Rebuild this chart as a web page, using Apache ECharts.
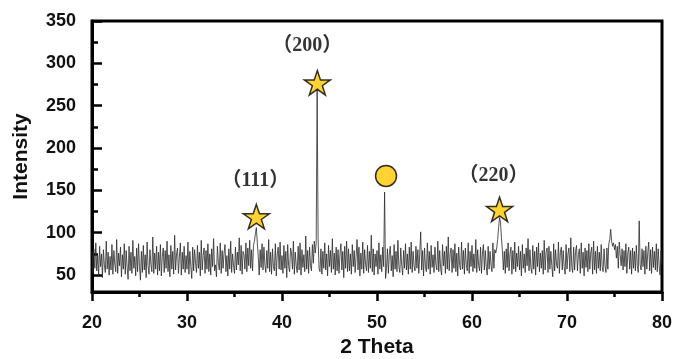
<!DOCTYPE html>
<html>
<head>
<meta charset="utf-8">
<script src="https://cdn.jsdelivr.net/npm/echarts@6/dist/echarts.min.js"></script>
<style>
  html, body { margin: 0; padding: 0; background: #fff; }
  #chart { width: 674px; height: 359px; }
</style>
</head>
<body>
<div id="chart"></div>
<script>
// scan: 20..80 deg, 0.1 deg step
const thetaStart = 20;
const thetaStep = 0.1;
const intensity = [
  78, 52, 81, 58, 88, 55, 73, 49, 84, 60,
  75, 47, 80, 62, 53, 90, 57, 77, 50, 72,
  56, 86, 51, 79, 63, 54, 92, 52, 76, 61,
  83, 48, 74, 57, 87, 51, 79, 59, 45, 84,
  55, 77, 52, 91, 58, 72, 49, 82, 54, 87,
  60, 44, 78, 53, 85, 56, 74, 47, 89, 61,
  51, 80, 63, 54, 95, 52, 76, 57, 84, 50,
  77, 55, 86, 49, 72, 82, 53, 79, 58, 90,
  54, 74, 48, 85, 57, 78, 51, 97, 56, 75,
  82, 52, 71, 88, 50, 77, 57, 84, 53, 73,
  57, 89, 51, 78, 60, 46, 83, 55, 80, 64,
  53, 85, 58, 77, 49, 91, 56, 73, 82, 52,
  79, 57, 87, 54, 75, 50, 81, 60, 93, 55,
  62, 48, 84, 65, 56, 88, 52, 79, 58, 76,
  86, 54, 73, 49, 81, 57, 90, 53, 75, 61,
  52, 83, 56, 77, 62, 94, 55, 85, 51, 78,
  74, 57, 88, 54, 82, 61, 91, 58, 80, 55,
  85, 90, 99, 106, 88, 72, 50, 80, 59, 87,
  56, 83, 62, 53, 79, 58, 92, 54, 77, 51,
  81, 60, 55, 87, 49, 75, 83, 57, 89, 56,
  73, 52, 85, 58, 78, 47, 86, 60, 54, 82,
  76, 57, 90, 51, 77, 61, 53, 84, 56, 88,
  50, 80, 59, 74, 54, 96, 57, 79, 52, 83,
  61, 55, 86, 64, 90, 76, 88, 270, 94, 58,
  54, 81, 51, 78, 58, 88, 56, 75, 49, 85,
  60, 79, 53, 93, 57, 76, 50, 83, 55, 80,
  52, 74, 87, 56, 78, 47, 84, 58, 90, 54,
  81, 55, 75, 51, 86, 60, 79, 53, 72, 92,
  56, 83, 49, 76, 57, 89, 52, 80, 62, 55,
  85, 53, 78, 58, 97, 54, 81, 50, 75, 60,
  79, 51, 88, 57, 74, 54, 83, 60, 148, 46,
  58, 81, 52, 76, 84, 55, 73, 48, 86, 57,
  78, 54, 91, 60, 53, 82, 62, 50, 79, 58,
  87, 56, 75, 51, 83, 57, 89, 53, 78, 61,
  55, 84, 58, 80, 52, 76, 101, 56, 79, 49,
  82, 60, 54, 88, 57, 78, 51, 85, 59, 74,
  53, 83, 62, 56, 90, 54, 79, 58, 50, 86,
  61, 78, 52, 84, 57, 95, 55, 75, 82, 53,
  80, 58, 87, 54, 76, 49, 83, 61, 56, 89,
  57, 79, 51, 82, 62, 55, 88, 52, 78, 60,
  85, 54, 75, 58, 92, 53, 80, 61, 55, 83,
  52, 76, 86, 56, 79, 60, 50, 84, 57, 78,
  62, 54, 88, 58, 80, 76, 82, 92, 106, 118,
  112, 94, 79, 56, 78, 52, 81, 59, 88, 55,
  75, 83, 51, 79, 57, 89, 54, 76, 60, 84,
  56, 78, 49, 86, 58, 75, 53, 82, 61, 93,
  55, 80, 59, 52, 85, 57, 78, 50, 83, 60,
  88, 54, 76, 58, 79, 51, 91, 56, 77, 82,
  53, 84, 57, 78, 61, 48, 87, 55, 80, 62,
  58, 89, 52, 77, 83, 56, 79, 60, 51, 86,
  57, 75, 82, 54, 94, 60, 53, 83, 56, 78,
  85, 55, 74, 81, 52, 88, 58, 77, 49, 82,
  59, 79, 54, 87, 57, 76, 83, 51, 90, 56,
  78, 52, 84, 58, 77, 55, 86, 60, 54, 81,
  61, 53, 82, 57, 87, 92, 104, 90, 84, 88,
  80, 86, 70, 84, 58, 89, 74, 61, 81, 56,
  79, 60, 87, 52, 76, 83, 57, 79, 51, 82,
  58, 78, 55, 85, 61, 53, 114, 62, 56, 81,
  60, 79, 51, 84, 57, 76, 89, 55, 80, 52,
  83, 59, 78, 56, 87, 54, 81, 61, 50, 79,
  62
];

// peak markers
const starX = [37.3, 43.72, 62.9];
const starY = [119, 277, 127.5];
const starLabels = ['（111）', '（200）', '（220）'];
const circleX = [50.95];
const circleY = [167];

const yLabelTicks = [50, 100, 150, 200, 250, 300, 350];
const yMinorTicks = [75, 125, 175, 225, 275, 325];

const labelOffsets = [[-1, -36], [-10, -37], [-6, -34]];

const starPath = 'path://M50,0 L61.8,35.1 L98.9,35.1 L68.8,56.7 L80.2,91.9 L50,70.2 L19.8,91.9 L31.2,56.7 L1.1,35.1 L38.2,35.1 Z';
const gold = '#FFC800';

let pattern = intensity.map((v, i) => [thetaStart + i * thetaStep, v]);

let chart = echarts.init(document.getElementById('chart'));

const axisFont = { fontFamily: 'Liberation Sans', fontWeight: 'bold', fontSize: 18, color: '#111' };
const titleFont = { fontFamily: 'Liberation Sans', fontWeight: 'bold', fontSize: 21, color: '#111' };

let option = {
  animation: false,
  grid: {
    left: 92, right: 12, top: 21, bottom: 67,
    outerBoundsMode: 'none',
    containLabel: false,
    show: true, borderColor: '#000', borderWidth: 3
  },
  xAxis: {
    type: 'value',
    min: 20, max: 80, interval: 10,
    name: '2 Theta',
    nameLocation: 'middle',
    nameGap: 45,
    nameTextStyle: titleFont,
    axisLine: { show: true, lineStyle: { color: '#000', width: 3 } },
    axisTick: { show: true, inside: false, length: 9, lineStyle: { color: '#000', width: 2.5 } },
    minorTick: { show: true, splitNumber: 2, length: 5, lineStyle: { color: '#000', width: 2.5 } },
    axisLabel: Object.assign({ margin: 22 }, axisFont),
    splitLine: { show: false }
  },
  yAxis: [
    {
      type: 'value',
      min: 30, max: 350,
      name: 'Intensity',
      nameLocation: 'middle',
      nameGap: 60,
      nameTextStyle: titleFont,
      axisLine: { show: true, lineStyle: { color: '#000', width: 3 } },
      axisTick: { show: true, inside: true, length: 10, customValues: yLabelTicks, lineStyle: { color: '#000', width: 2.5 } },
      axisLabel: Object.assign({ margin: 16, customValues: yLabelTicks }, axisFont),
      splitLine: { show: false }
    },
    {
      type: 'value',
      min: 30, max: 350,
      position: 'left',
      axisLine: { show: false },
      axisTick: { show: true, inside: true, length: 6, customValues: yMinorTicks, lineStyle: { color: '#000', width: 2.5 } },
      axisLabel: { show: false },
      splitLine: { show: false }
    }
  ],
  series: [
    {
      type: 'line',
      data: pattern,
      showSymbol: false,
      sampling: 'none',
      lineStyle: { color: '#2a2a2a', width: 0.8 },
      z: 2
    },
    {
      type: 'scatter',
      symbol: starPath,
      symbolKeepAspect: true,
      symbolSize: 26,
      itemStyle: { color: gold, borderColor: '#000', borderWidth: 1.5 },
      data: starX.map((x, i) => ({
        value: [x, starY[i]],
        label: {
          show: true,
          position: 'inside',
          offset: labelOffsets[i],
          formatter: starLabels[i],
          fontFamily: "'Liberation Serif', 'Noto Sans CJK SC'",
          fontWeight: 'bold',
          fontSize: 20,
          color: '#000'
        }
      })),
      z: 5
    },
    {
      type: 'scatter',
      symbol: 'circle',
      symbolSize: 21,
      itemStyle: { color: gold, borderColor: '#000', borderWidth: 1.5 },
      data: circleX.map((x, i) => [x, circleY[i]]),
      z: 5
    }
  ]
};

chart.setOption(option);
</script>
</body>
</html>
